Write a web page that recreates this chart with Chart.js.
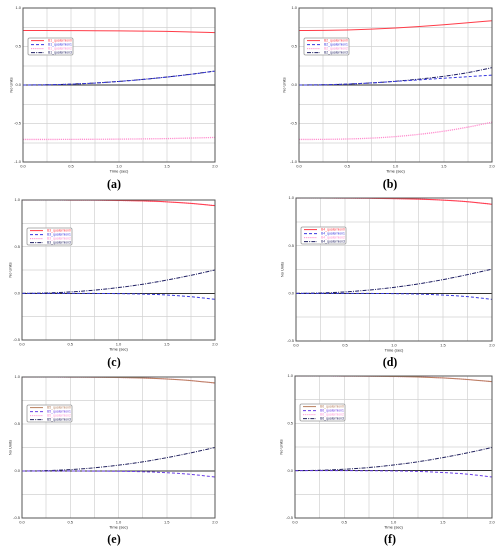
<!DOCTYPE html>
<html>
<head>
<meta charset="utf-8">
<script src="https://cdn.jsdelivr.net/npm/chart.js@4.4.1/dist/chart.umd.min.js"></script>
<style>
  html, body { margin: 0; padding: 0; background: #fff; }
  body { width: 501px; height: 550px; position: relative; overflow: hidden; }
  canvas { position: absolute; }
  .cap { position: absolute; font-family: "Liberation Serif", "DejaVu Serif", serif; font-weight: bold; font-size: 12px; color: #000; transform: translateX(-50%); }
</style>
</head>
<body>
<canvas id="ca"></canvas>
<canvas id="cb"></canvas>
<canvas id="cc"></canvas>
<canvas id="cd"></canvas>
<canvas id="ce"></canvas>
<canvas id="cf"></canvas>
<div class="cap" style="left:114px; top:177px;">(a)</div>
<div class="cap" style="left:390px; top:177px;">(b)</div>
<div class="cap" style="left:114px; top:355px;">(c)</div>
<div class="cap" style="left:390px; top:355px;">(d)</div>
<div class="cap" style="left:114px; top:532px;">(e)</div>
<div class="cap" style="left:390px; top:532px;">(f)</div>
<script>
// ---- data ----
const time = [0, 0.25, 0.5, 0.75, 1.0, 1.25, 1.5, 1.75, 2.0];

const a_q0 = [0.707, 0.707, 0.706, 0.705, 0.703, 0.700, 0.696, 0.689, 0.681];
const a_q1 = [0, 0.003, 0.011, 0.025, 0.046, 0.072, 0.103, 0.139, 0.180];
const a_q2 = [-0.707, -0.707, -0.706, -0.705, -0.703, -0.700, -0.696, -0.689, -0.681];
const a_q3 = [0, 0.003, 0.012, 0.026, 0.047, 0.073, 0.104, 0.140, 0.182];

const b_q0 = [0.707, 0.709, 0.715, 0.725, 0.740, 0.760, 0.783, 0.808, 0.835];
const b_q1 = [0, 0.003, 0.012, 0.027, 0.047, 0.067, 0.088, 0.108, 0.128];
const b_q2 = [-0.707, -0.706, -0.701, -0.690, -0.670, -0.640, -0.600, -0.547, -0.483];
const b_q3 = [0, 0.003, 0.012, 0.027, 0.049, 0.077, 0.113, 0.161, 0.225];

const c_q0 = [1.000, 1.000, 0.999, 0.998, 0.995, 0.990, 0.980, 0.964, 0.940];
const c_q1 = [0, 0, 0, -0.001, -0.003, -0.008, -0.018, -0.036, -0.064];
const c_q2 = [1.000, 1.000, 0.999, 0.998, 0.995, 0.990, 0.980, 0.964, 0.940];
const c_q3 = [0, 0.004, 0.015, 0.034, 0.062, 0.097, 0.142, 0.193, 0.250];

const d_q0 = [1.000, 1.000, 0.999, 0.997, 0.994, 0.988, 0.978, 0.961, 0.935];
const d_q1 = [0, 0, 0, -0.001, -0.003, -0.008, -0.018, -0.035, -0.063];
const d_q2 = [1.000, 1.000, 0.999, 0.997, 0.994, 0.988, 0.978, 0.961, 0.935];
const d_q3 = [0, 0.004, 0.015, 0.035, 0.063, 0.099, 0.144, 0.196, 0.253];

const e_q0 = [1.000, 1.000, 0.999, 0.998, 0.995, 0.989, 0.979, 0.962, 0.936];
const e_q1 = [0, 0, 0, -0.001, -0.003, -0.008, -0.018, -0.036, -0.064];
const e_q2 = [1.000, 1.000, 0.999, 0.998, 0.995, 0.989, 0.979, 0.962, 0.936];
const e_q3 = [0, 0.004, 0.015, 0.034, 0.062, 0.097, 0.142, 0.193, 0.250];

const f_q0 = [1.000, 1.000, 0.999, 0.998, 0.995, 0.990, 0.980, 0.963, 0.940];
const f_q1 = [0, 0, 0, -0.001, -0.003, -0.008, -0.019, -0.037, -0.067];
const f_q2 = [1.000, 1.000, 0.999, 0.998, 0.995, 0.990, 0.980, 0.963, 0.940];
const f_q3 = [0, 0.004, 0.015, 0.033, 0.060, 0.094, 0.138, 0.188, 0.245];

const seriesNames = ["quaternion0", "quaternion1", "quaternion2", "quaternion3"];

// ---- styles ----
const redSet = ["#ff3c48", "#3838e0", "#ff8fcf", "#1e1e62"];
const brownSet = ["#b8805e", "#6a3ee6", "#ff9ad8", "#22225e"];
const dashes = [[], [3, 2], [1.2, 0.9], [4, 1.2, 1, 1.2]];
const widths = [1, 1, 1.3, 1];

const frameAndLegend = {
  id: 'frameAndLegend',
  afterDraw(chart) {
    const ctx = chart.ctx, ca = chart.chartArea;
    ctx.save();
    ctx.strokeStyle = '#555';
    ctx.lineWidth = 1;
    ctx.strokeRect(ca.left, ca.top, ca.right - ca.left, ca.bottom - ca.top);
    const lg = chart.options.plugins.frameAndLegend;
    const bx = ca.left + 5, by = ca.top + lg.dy, bw = 45, bh = 17;
    ctx.fillStyle = '#fff';
    ctx.strokeStyle = '#999';
    ctx.lineWidth = 0.8;
    ctx.beginPath();
    ctx.roundRect(bx, by, bw, bh, 1.5);
    ctx.fill(); ctx.stroke();
    ctx.font = '3.4px Arial, "Liberation Sans", sans-serif';
    ctx.textBaseline = 'middle';
    chart.data.datasets.forEach((ds, i) => {
      const y = by + 2.6 + i * 4;
      ctx.strokeStyle = ds.borderColor;
      ctx.lineWidth = 1;
      ctx.setLineDash(ds.borderDash || []);
      ctx.beginPath(); ctx.moveTo(bx + 3, y); ctx.lineTo(bx + 16, y); ctx.stroke();
      ctx.setLineDash([]);
      ctx.fillStyle = ds.borderColor;
      ctx.fillText(ds.label, bx + 20, y);
    });
    ctx.restore();
  }
};

function makeChart(id, prefix, arrs, colors, yMin, box) {
  const cv = document.getElementById(id);
  cv.style.left = box.left + 'px';
  cv.style.top = box.top + 'px';
  const datasets = arrs.map((arr, i) => ({
    label: prefix + '_' + seriesNames[i],
    data: time.map((t, k) => ({ x: t, y: arr[k] })),
    borderColor: colors[i],
    borderDash: dashes[i],
    borderWidth: widths[i],
    pointRadius: 0,
    fill: false,
    cubicInterpolationMode: 'monotone'
  }));
  const fmt = v => (Math.abs(v * 2 - Math.round(v * 2)) < 1e-9) ? v.toFixed(1) : '';
  return new Chart(cv, {
    type: 'line',
    data: { datasets },
    options: {
      responsive: false,
      animation: false,
      devicePixelRatio: 2,
      layout: { padding: { left: box.padL, right: box.padR, top: box.padT, bottom: box.padB } },
      plugins: {
        legend: { display: false },
        tooltip: { enabled: false },
        frameAndLegend: { dy: box.legendDy }
      },
      scales: {
        x: {
          type: 'linear', min: 0, max: 2,
          afterFit: s => { s.height = 13; },
          ticks: { stepSize: 0.25, callback: fmt, font: { size: 4 }, color: '#333', padding: 2, maxRotation: 0, autoSkip: false },
          grid: { color: '#d2d2d2', lineWidth: 0.7, drawTicks: false },
          border: { display: false },
          title: { display: true, text: 'Time (sec)', font: { size: 4 }, color: '#222', padding: { top: 1, bottom: 1 } }
        },
        y: {
          type: 'linear', min: yMin, max: 1,
          afterFit: s => { s.width = box.yw; },
          ticks: { stepSize: 0.25, callback: fmt, font: { size: 4 }, color: '#333', padding: 2, autoSkip: false },
          grid: {
            color: c => c.tick && Math.abs(c.tick.value) < 1e-9 ? '#333' : '#d2d2d2',
            lineWidth: c => c.tick && Math.abs(c.tick.value) < 1e-9 ? 1 : 0.7,
            drawTicks: false
          },
          border: { display: false },
          title: { display: true, text: 'No Units', font: { size: 4 }, color: '#222', padding: { top: 0, bottom: 1 } }
        }
      }
    },
    plugins: [frameAndLegend]
  });
}

function sizeCanvas(id, w, h) {
  const cv = document.getElementById(id);
  cv.width = w; cv.height = h;
  cv.style.width = w + 'px'; cv.style.height = h + 'px';
}

sizeCanvas('ca', 250, 180); sizeCanvas('cb', 251, 180);
sizeCanvas('cc', 250, 180); sizeCanvas('cd', 251, 180);
sizeCanvas('ce', 250, 175); sizeCanvas('cf', 251, 175);

makeChart('ca', 'B1', [a_q0, a_q1, a_q2, a_q3], redSet, -1,
  { left: 0, top: 0, padL: 9, padR: 35, padT: 8, padB: 5, yw: 14, legendDy: 30 });
makeChart('cb', 'B2', [b_q0, b_q1, b_q2, b_q3], redSet, -1,
  { left: 250, top: 0, padL: 32, padR: 9, padT: 8, padB: 5, yw: 17, legendDy: 30 });
makeChart('cc', 'B3', [c_q0, c_q1, c_q2, c_q3], redSet, -0.5,
  { left: 0, top: 180, padL: 8, padR: 35, padT: 20, padB: 7, yw: 14, legendDy: 28 });
makeChart('cd', 'B4', [d_q0, d_q1, d_q2, d_q3], redSet, -0.5,
  { left: 250, top: 180, padL: 30, padR: 9, padT: 18, padB: 6, yw: 16, legendDy: 29 });
makeChart('ce', 'B5', [e_q0, e_q1, e_q2, e_q3], brownSet, -0.5,
  { left: 0, top: 365, padL: 8, padR: 35, padT: 12, padB: 9, yw: 14, legendDy: 28 });
makeChart('cf', 'B6', [f_q0, f_q1, f_q2, f_q3], brownSet, -0.5,
  { left: 250, top: 365, padL: 29, padR: 9, padT: 11, padB: 9, yw: 16, legendDy: 28 });
</script>
</body>
</html>
